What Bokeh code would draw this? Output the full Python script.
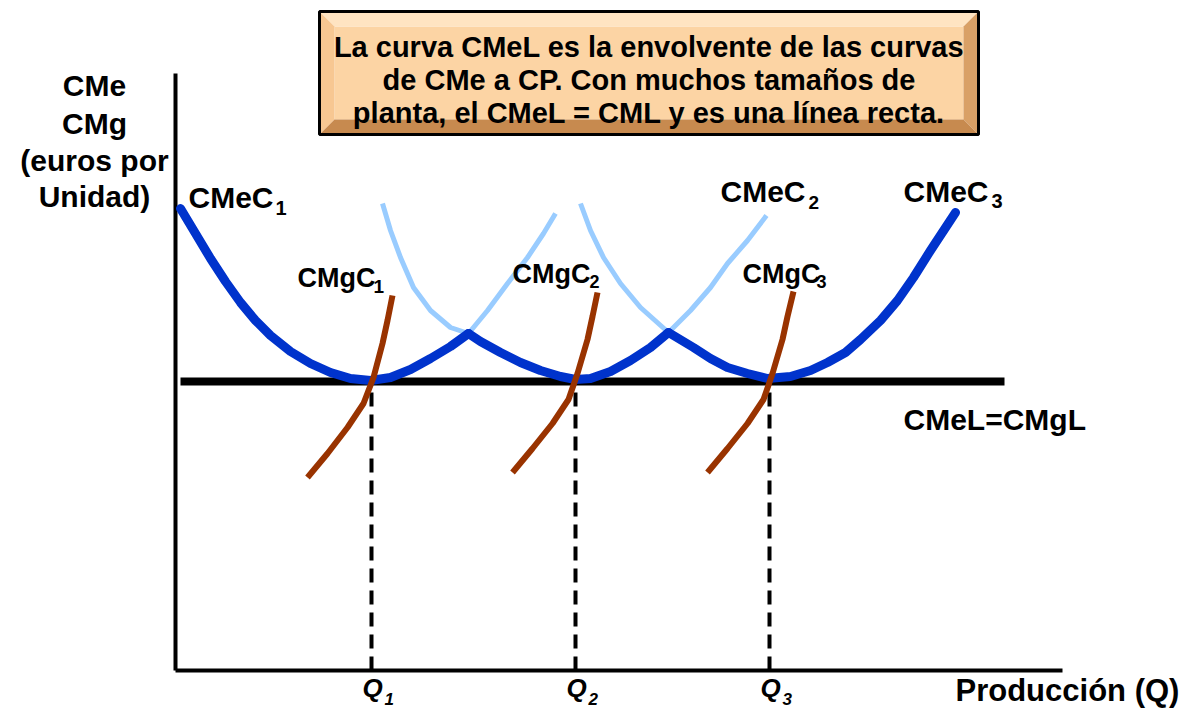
from bokeh.plotting import figure
from bokeh.models import Range1d, ColumnDataSource
from bokeh.core.properties import value
from bokeh.embed import file_html
from bokeh.resources import INLINE

# ---------------- data (quantity units, cost units) ----------------
cmel_level = 28.9
q_values = [19.6, 40.0, 59.4]
q_labels = ["Q", "Q", "Q"]
q_subs = ["1", "2", "3"]

# envelope (dark blue) segments of the short-run average cost curves
cmec1_x = [0.5, 2.0, 3.5, 5.0, 6.5, 8.0, 9.5, 11.5, 13.5, 15.5, 17.5, 19.5, 21.5, 23.5, 25.5, 27.5, 29.3]
cmec1_y = [46.2, 43.7, 41.2, 38.9, 36.8, 35.0, 33.5, 31.9, 30.7, 29.8, 29.2, 29.0, 29.3, 30.1, 31.2, 32.4, 33.7]
cmec2_x = [29.3, 30.5, 32.5, 34.5, 36.5, 38.5, 40.0, 41.5, 43.5, 45.5, 47.5, 49.3]
cmec2_y = [33.7, 32.9, 31.8, 30.8, 30.0, 29.4, 29.1, 29.2, 29.9, 31.0, 32.3, 33.8]
cmec3_x = [49.3, 51.8, 53.5, 55.2, 57.2, 59.2, 61.5, 63.5, 65.2, 67.0, 68.5, 70.5, 72.2, 73.8, 75.5, 78.0]
cmec3_y = [33.8, 32.3, 31.2, 30.3, 29.7, 29.2, 29.4, 30.0, 30.8, 31.8, 33.1, 35.0, 37.0, 39.3, 42.0, 45.8]

# light-blue branches above the envelope
c2_left_x = [20.7, 21.5, 22.5, 23.8, 25.5, 27.5, 29.3]
c2_left_y = [46.7, 44.0, 41.3, 38.3, 36.0, 34.3, 33.7]
c2_right_x = [29.3, 31.2, 33.2, 35.2, 36.8, 38.0]
c2_right_y = [33.7, 36.0, 38.7, 41.3, 43.7, 45.7]
c3_left_x = [40.5, 41.5, 42.8, 44.5, 46.5, 49.3]
c3_left_y = [46.7, 44.0, 41.3, 38.7, 36.3, 33.8]
c3_right_x = [49.3, 51.5, 53.5, 55.2, 57.2, 59.1]
c3_right_y = [33.8, 36.0, 38.3, 40.7, 43.0, 45.5]

# short-run marginal cost curves
cmg1_x = [13.2, 15.2, 17.2, 18.8, 19.8, 20.7, 21.2, 21.7]
cmg1_y = [19.3, 21.7, 24.3, 26.7, 29.3, 32.7, 35.0, 37.5]
cmg2_x = [33.7, 35.7, 37.7, 39.3, 40.2, 41.2, 41.7, 42.2]
cmg2_y = [19.8, 22.2, 24.7, 27.1, 29.7, 33.1, 35.4, 37.8]
cmg3_x = [53.2, 55.2, 57.2, 58.8, 59.7, 60.7, 61.2, 61.8]
cmg3_y = [19.8, 22.2, 24.7, 27.1, 29.7, 33.1, 35.4, 37.9]

# texts
title_lines = ["La curva CMeL es la envolvente de las curvas",
               "de CMe a CP. Con muchos tamaños de",
               "planta, el CMeL = CML y es una línea recta."]
y_label_lines = ["CMe", "CMg", "(euros por", "Unidad)"]
x_label = "Producción (Q)"
curve_names = ["CMeC", "CMeC", "CMeC", "CMgC", "CMgC", "CMgC"]
curve_subs = ["1", "2", "3", "1", "2", "3"]
long_run_label = "CMeL=CMgL"

# ---------------- figure ----------------
p = figure(width=1189, height=710, x_range=Range1d(-17.5, 101.4), y_range=Range1d(-4.0, 67.0),
           output_backend="svg", toolbar_location=None, min_border=0,
           x_axis_location=None, y_axis_location=None)
p.grid.visible = False
p.outline_line_color = None
p.background_fill_color = "white"

FONT = value("Liberation Sans")

# title box with bevel
bx0, bx1, bi0, bi1 = 14.4, 80.3, 15.9, 78.8
by1, by0, bj1, bj0 = 65.9, 53.6, 64.4, 55.1
p.quad(left=[bi0], right=[bi1], bottom=[bj0], top=[bj1], fill_color="#FCD4A4", line_color=None)
p.patch([bx0, bx1, bi1, bi0], [by1, by1, bj1, bj1], fill_color="#FFE4C2", line_color=None)
p.patch([bx0, bi0, bi0, bx0], [by1, bj1, bj0, by0], fill_color="#F7C792", line_color=None)
p.patch([bx1, bx1, bi1, bi1], [by1, by0, bj0, bj1], fill_color="#D9A066", line_color=None)
p.patch([bx0, bi0, bi1, bx1], [by0, bj0, bj0, by0], fill_color="#C78A4F", line_color=None)
p.quad(left=[bx0], right=[bx1], bottom=[by0], top=[by1], fill_color=None, line_color="black", line_width=3)
p.text(x=[47.35] * 3, y=[62.4, 59.1, 55.8], text=title_lines, text_font=FONT, text_font_style="bold",
       text_font_size="29px", text_align="center", text_baseline="middle", text_color="black")

# axes
p.line([0, 0], [0, 59.7], line_color="black", line_width=4)
p.line([0, 88.7], [0, 0], line_color="black", line_width=4)

# dashed guides
for q in q_values:
    p.line([q, q], [0, cmel_level], line_color="black", line_width=4, line_dash="14 8")

# light-blue branches
for xs, ys in [(c2_left_x, c2_left_y), (c2_right_x, c2_right_y), (c3_left_x, c3_left_y), (c3_right_x, c3_right_y)]:
    p.line(xs, ys, line_color="#99CCFF", line_width=5)

# long-run line
p.line([0.5, 82.9], [cmel_level, cmel_level], line_color="black", line_width=8)

# envelope
for xs, ys in [(cmec1_x, cmec1_y), (cmec2_x, cmec2_y), (cmec3_x, cmec3_y)]:
    p.line(xs, ys, line_color="#0033CC", line_width=9, line_cap="round", line_join="round")

# marginal costs
for xs, ys in [(cmg1_x, cmg1_y), (cmg2_x, cmg2_y), (cmg3_x, cmg3_y)]:
    p.line(xs, ys, line_color="#993300", line_width=6)

# curve labels
name_src = ColumnDataSource(dict(x=[1.3, 54.5, 72.8, 12.2, 33.7, 56.7],
                                 y=[47.3, 47.9, 47.9, 39.25, 39.7, 39.7],
                                 t=curve_names,
                                 s=["30px", "30px", "30px", "27px", "27px", "27px"]))
p.text(x="x", y="y", text="t", text_font_size="s", source=name_src, text_font=FONT,
       text_font_style="bold", text_baseline="middle", text_color="black")
sub_src = ColumnDataSource(dict(x=[10.0, 63.3, 81.6, 19.8, 41.4, 64.1],
                                y=[46.25, 46.85, 47.0, 38.45, 38.9, 38.9],
                                t=curve_subs,
                                s=["20px", "19px", "20px", "19px", "18px", "18px"]))
p.text(x="x", y="y", text="t", text_font_size="s", source=sub_src, text_font=FONT,
       text_font_style="bold", text_baseline="middle", text_color="black")

p.text(x=[72.8], y=[25.1], text=[long_run_label], text_font=FONT, text_font_style="bold",
       text_font_size="30px", text_baseline="middle", text_color="black")

# y label
p.text(x=[-8.1] * 4, y=[58.5, 54.7, 51.0, 47.4], text=y_label_lines, text_font=FONT,
       text_font_style="bold", text_font_size="30px", text_align="center",
       text_baseline="middle", text_color="black")

# Q labels
p.text(x=[q - 0.9 for q in q_values], y=[-1.75] * 3, text=q_labels, text_font=FONT,
       text_font_style="bold italic", text_font_size="26px", text_baseline="middle",
       text_color="black")
p.text(x=[q + 1.3 for q in q_values], y=[-2.85] * 3, text=q_subs, text_font=FONT,
       text_font_style="bold italic", text_font_size="17px", text_baseline="middle",
       text_color="black")

p.text(x=[78.0], y=[-2.0], text=[x_label], text_font=FONT, text_font_style="bold",
       text_font_size="31px", text_baseline="middle", text_color="black")

open("out.html", "w").write(file_html(p, INLINE))
